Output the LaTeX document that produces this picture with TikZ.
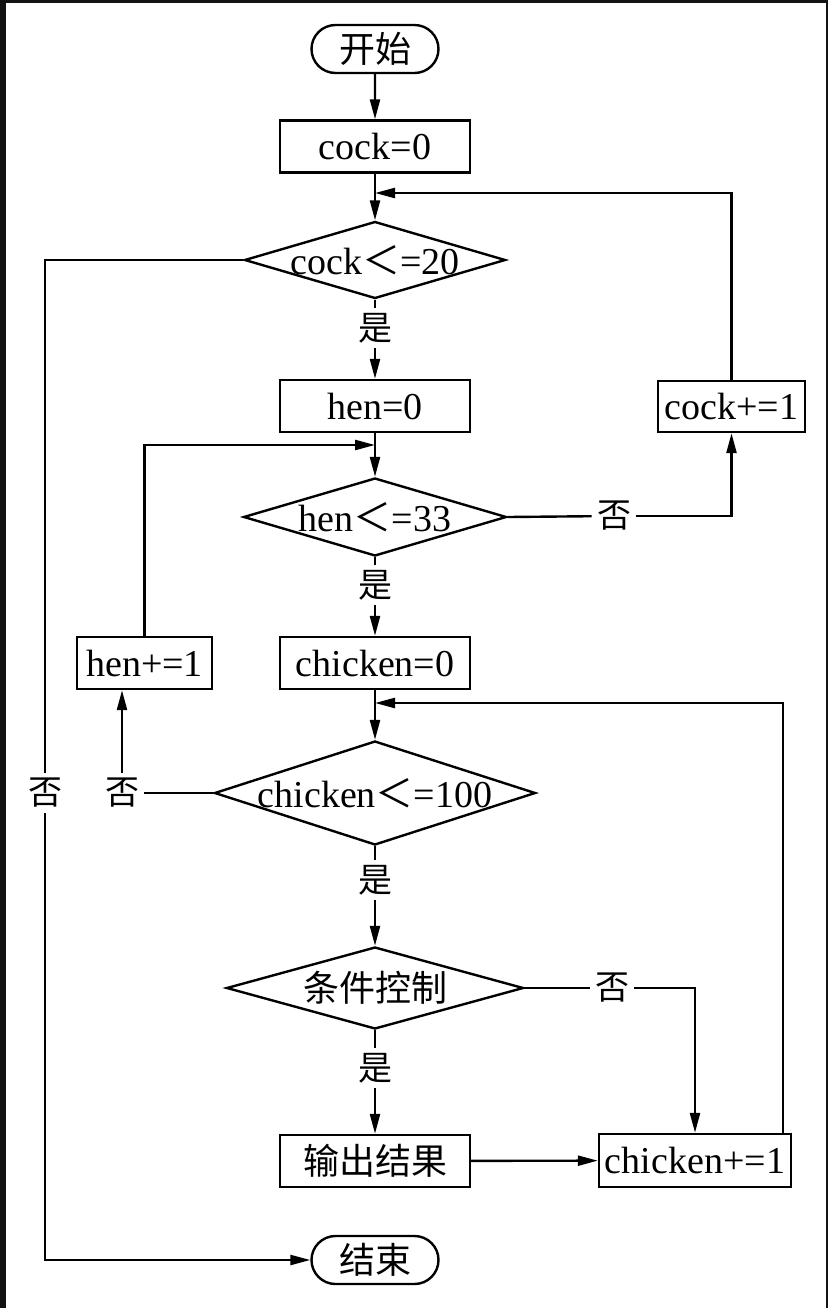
\documentclass[tikz,border=0pt]{standalone}
\usepackage{fontspec}
\setmainfont{Liberation Serif}
\newfontfamily\cjk{Noto Sans CJK SC}
\usetikzlibrary{shapes.geometric,shapes.misc,arrows.meta,calc}
\newcommand\ltc{{\cjk ＜}}
\begin{document}
\begin{tikzpicture}[x=0.5pt,y=-0.5pt,
  every node/.style={font=\fontsize{19pt}{22pt}\selectfont, inner sep=0pt},
  line/.style={line width=1.2pt},
  arr/.style={line width=1.2pt, -{Triangle[length=10pt,width=5pt]}},
  box/.style={draw, line width=1.2pt, rectangle, minimum width=95pt, minimum height=26pt},
  term/.style={draw, line width=1.2pt, rounded rectangle, minimum width=63.5pt, minimum height=24pt, font=\cjk\fontsize{18pt}{20pt}\selectfont},
  dec/.style={draw, line width=1.2pt, diamond, inner sep=0pt},
  lab/.style={font=\cjk\fontsize{17pt}{20pt}\selectfont, inner sep=2.5pt}]
\useasboundingbox (0,0) rectangle (828,1308);
\fill[black!93] (0,0) rectangle (828,1308);
\fill[white] (6,3) rectangle (826,1308);

% main column
\node[term] (start) at (375,49) {开始};
\node[box] (c0) at (375,146.5) {cock=0};
\node[dec, minimum width=130.5pt, minimum height=38.5pt, label={center:cock\ltc=20}] (d1) at (375,260) {};
\node[lab] (yes1) at (375,328) {是};
\node[box] (h0) at (375,406) {hen=0};
\node[dec, minimum width=131.5pt, minimum height=39pt, label={center:hen\ltc=33}] (d2) at (375,517) {};
\node[lab] (yes2) at (375,585) {是};
\node[box] (k0) at (375,663) {chicken=0};
\node[dec, minimum width=160.5pt, minimum height=52pt, label={center:chicken\ltc=100}] (d3) at (375,793) {};
\node[lab] (yes3) at (375,880) {是};
\node[dec, minimum width=148.5pt, minimum height=41pt, label={center:{\cjk\fontsize{18pt}{20pt}\selectfont 条件控制}}] (d4) at (375,988) {};
\node[lab] (yes4) at (375,1068) {是};
\node[box, font=\cjk\fontsize{18pt}{20pt}\selectfont] (out) at (375,1161) {输出结果};
\node[term] (end) at (375,1260) {结束};

% side boxes
\node[box, minimum width=73.5pt, minimum height=25.5pt] (cinc) at (731.5,406.5) {cock+=1};
\node[box, minimum width=67.5pt, minimum height=26pt] (hinc) at (144.5,663) {hen+=1};
\node[box, minimum width=96pt, minimum height=26.5pt] (kinc) at (695,1160.5) {chicken+=1};

% no labels
\node[lab] (no1) at (45,793) {否};
\node[lab] (no2) at (614,516) {否};
\node[lab] (no3) at (122,793) {否};
\node[lab] (no4) at (612,988) {否};

% join points
\coordinate (j1) at (375,193);
\coordinate (j2) at (375,445);
\coordinate (j3) at (375,703);

% main flow
\draw[arr] (start) -- (c0);
\draw[arr] (c0) -- (d1);
\draw[line] (d1) -- (yes1);
\draw[arr] (yes1) -- (h0);
\draw[arr] (h0) -- (d2);
\draw[line] (d2) -- (yes2);
\draw[arr] (yes2) -- (k0);
\draw[arr] (k0) -- (d3);
\draw[line] (d3) -- (yes3);
\draw[arr] (yes3) -- (d4);
\draw[line] (d4) -- (yes4);
\draw[arr] (yes4) -- (out);
\draw[arr] (out) -- (kinc);

% cock loop
\draw[line] (d2.east) -- (no2);
\draw[arr] (no2) -| (cinc.south);
\draw[arr] (cinc.north) |- (j1);
\draw[line] (d1.west) -| (no1);
\draw[arr] (no1) |- (end);

% hen loop
\draw[line] (d3.west) -- (no3);
\draw[arr] (no3.north) -- (no3.north |- hinc.south);
\draw[arr] (hinc.north) |- (j2);

% chicken loop
\draw[line] (d4.east) -- (no4);
\draw[arr] (no4) -| (kinc.north);
\draw[arr] ([xshift=-4.5pt]kinc.north east) |- (j3);
\end{tikzpicture}
\end{document}
